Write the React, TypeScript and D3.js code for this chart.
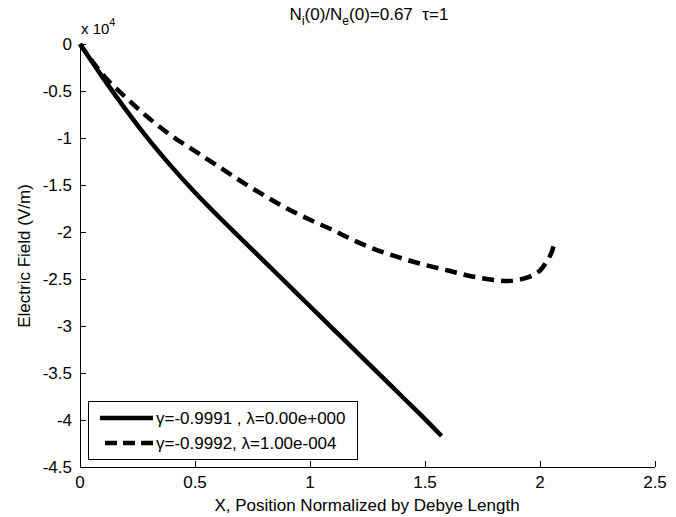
import React from "react";
import * as d3 from "d3";

// values in units of 1e4 V/m
const solidX = [0, 0.1, 0.2, 0.3, 0.4, 0.5, 0.6, 0.7, 0.8, 0.9, 1.0, 1.1, 1.2, 1.3, 1.4, 1.5, 1.572];
const solidY = [0, -0.36, -0.7, -1.02, -1.31, -1.58, -1.83, -2.07, -2.31, -2.55, -2.79, -3.03, -3.27, -3.51, -3.75, -3.99, -4.17];
const dashX = [0, 0.1, 0.2, 0.3, 0.4, 0.5, 0.6, 0.7, 0.8, 0.9, 1.0, 1.1, 1.2, 1.3, 1.4, 1.5, 1.6, 1.7, 1.8, 1.87, 1.95, 2.0, 2.03, 2.05, 2.06];
const dashY = [0, -0.33, -0.57, -0.79, -0.98, -1.14, -1.3, -1.46, -1.61, -1.75, -1.87, -1.98, -2.1, -2.2, -2.28, -2.35, -2.41, -2.47, -2.51, -2.52, -2.48, -2.41, -2.31, -2.22, -2.14];
const xTicks = [0, 0.5, 1, 1.5, 2, 2.5];
const xTickLabels = ["0", "0.5", "1", "1.5", "2", "2.5"];
const yTicks = [0, -0.5, -1, -1.5, -2, -2.5, -3, -3.5, -4, -4.5];
const yTickLabels = ["0", "-0.5", "-1", "-1.5", "-2", "-2.5", "-3", "-3.5", "-4", "-4.5"];
const legendLabels = ["\u03b3=-0.9991 , \u03bb=0.00e+000", "\u03b3=-0.9992, \u03bb=1.00e-004"];

const FONT = "Arial, 'Liberation Sans', Helvetica, sans-serif";

export default function App() {
  const x = d3.scaleLinear().domain([0, 2.5]).range([80, 655]);
  const y = d3.scaleLinear().domain([-4.5, 0]).range([467, 44]);
  const line = d3
    .line<[number, number]>()
    .x((d) => x(d[0]))
    .y((d) => y(d[1]))
    .curve(d3.curveCatmullRom);
  const solid = solidX.map((v, i) => [v, solidY[i]] as [number, number]);
  const dashed = dashX.map((v, i) => [v, dashY[i]] as [number, number]);
  const tick = 6;
  const [x0, x1] = x.range();
  const [yb, yt] = y.range();

  return (
    <svg
      width={676}
      height={517}
      style={{ position: "absolute", left: 0, top: 0, background: "#fff" }}
      fontFamily={FONT}
    >
      <rect x={0} y={0} width={676} height={517} fill="#fff" />
      {/* axes */}
      <line x1={x0} x2={x1} y1={yb + 0.5} y2={yb + 0.5} stroke="#000" strokeWidth={1} />
      <line x1={x0 + 0.5} x2={x0 + 0.5} y1={yb} y2={yt} stroke="#000" strokeWidth={1} />
      {xTicks.map((t, i) => (
        <g key={"xt" + i}>
          <line x1={Math.round(x(t)) + 0.5} x2={Math.round(x(t)) + 0.5} y1={yb} y2={yb - tick} stroke="#000" />
          <text x={x(t)} y={488} fontSize={17} textAnchor="middle" fill="#000">
            {xTickLabels[i]}
          </text>
        </g>
      ))}
      {yTicks.map((t, i) => (
        <g key={"yt" + i}>
          <line x1={x0} x2={x0 + tick} y1={Math.round(y(t)) + 0.5} y2={Math.round(y(t)) + 0.5} stroke="#000" />
          <text x={72} y={y(t) + 6} fontSize={17} textAnchor="end" fill="#000">
            {yTickLabels[i]}
          </text>
        </g>
      ))}
      {/* exponent */}
      <text x={81} y={34} fontSize={15} fill="#000">
        x 10
        <tspan dy={-8} fontSize={11}>4</tspan>
      </text>
      {/* curves */}
      <path d={line(solid) || ""} fill="none" stroke="#000" strokeWidth={4.5} />
      <path d={line(dashed) || ""} fill="none" stroke="#000" strokeWidth={4.5} strokeDasharray="12,7" />
      {/* title */}
      <text x={369} y={20} fontSize={17} textAnchor="middle" fill="#000" xmlSpace="preserve">
        N<tspan dy={5} fontSize={12}>i</tspan>
        <tspan dy={-5}>(0)/N</tspan>
        <tspan dy={5} fontSize={12}>e</tspan>
        <tspan dy={-5}>(0)=0.67  {"\u03c4"}=1</tspan>
      </text>
      {/* axis labels */}
      <text x={367} y={511} fontSize={17} textAnchor="middle" fill="#000">
        X, Position Normalized by Debye Length
      </text>
      <text transform="translate(30,256) rotate(-90)" fontSize={17} textAnchor="middle" fill="#000">
        Electric Field (V/m)
      </text>
      {/* legend */}
      <rect x={88.5} y={401.5} width={269} height={58} fill="#fff" stroke="#000" strokeWidth={1} />
      <line x1={100} x2={153} y1={418} y2={418} stroke="#000" strokeWidth={4.5} />
      <line x1={105} x2={153} y1={443} y2={443} stroke="#000" strokeWidth={4.5} strokeDasharray="12,6" />
      <text x={156} y={424} fontSize={17} fill="#000">{legendLabels[0]}</text>
      <text x={156} y={449} fontSize={17} fill="#000">{legendLabels[1]}</text>
    </svg>
  );
}
